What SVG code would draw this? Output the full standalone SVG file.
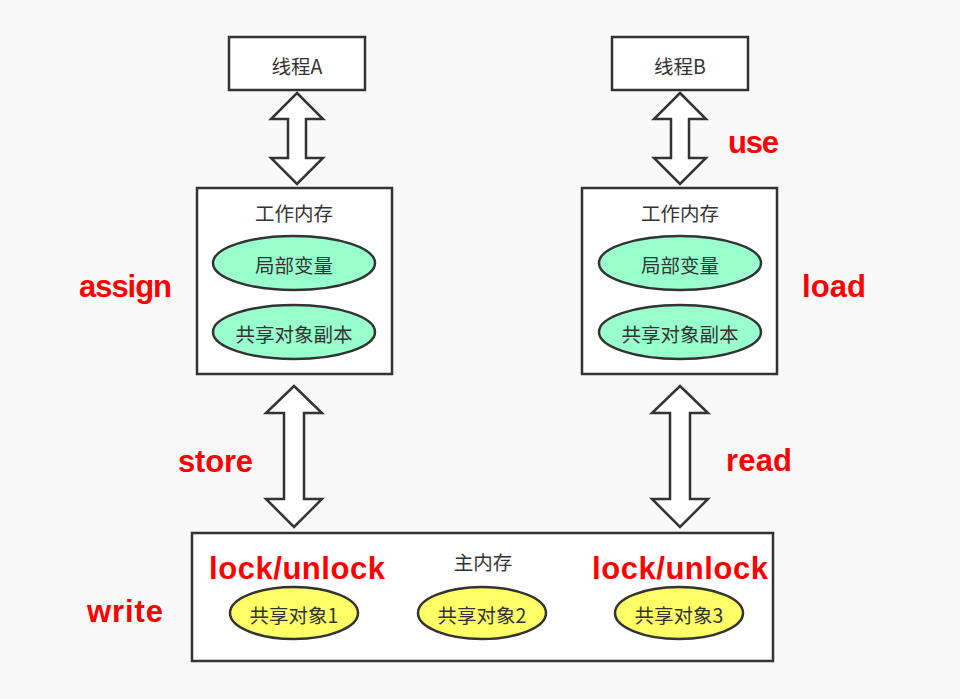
<svg xmlns="http://www.w3.org/2000/svg" width="960" height="699" viewBox="0 0 960 699">
<style>
.box{fill:#fff;stroke:#333;stroke-width:2.5}
.green{fill:#99ffcc;stroke:#333;stroke-width:2.5}
.yellow{fill:#ffff66;stroke:#333;stroke-width:2.5}
.arrow{fill:#fff;stroke:#333;stroke-width:2.5;stroke-linejoin:miter}
.t{font-family:"Noto Sans CJK SC","Noto Sans",sans-serif;font-size:19.5px;fill:#333;text-anchor:middle;dominant-baseline:central}
.lbl{font-family:"Liberation Sans",Arial,sans-serif;font-weight:bold;font-size:31px;fill:#ff0000}
</style>
<rect width="960" height="699" fill="#f9f9f9"/>
<g id="connectors">
<path class="arrow" d="M297,93 L323,119 L306,119 L306,158 L323,158 L297,184 L271,158 L288,158 L288,119 L271,119 Z"/>
<path class="arrow" d="M680,93 L706,119 L689,119 L689,158 L706,158 L680,184 L654,158 L671,158 L671,119 L654,119 Z"/>
<path class="arrow" d="M294,386 L322,413 L304,413 L304,499 L322,499 L294,527 L266,499 L284,499 L284,413 L266,413 Z"/>
<path class="arrow" d="M680,386 L708,413 L690,413 L690,499 L708,499 L680,527 L652,499 L670,499 L670,413 L652,413 Z"/>
</g>
<g id="threadA">
<rect class="box" x="229" y="37" width="136" height="53"/>
<text class="t" x="297" y="65">线程A</text>
</g>
<g id="threadB">
<rect class="box" x="612" y="37" width="136" height="53"/>
<text class="t" x="680" y="65">线程B</text>
</g>
<g id="workMemA">
<rect class="box" x="197" y="188" width="195" height="186"/>
<text class="t" x="294" y="212">工作内存</text>
</g>
<g id="localVarA">
<ellipse class="green" cx="294" cy="263" rx="81" ry="27"/>
<text class="t" x="294" y="264">局部变量</text>
</g>
<g id="copyA">
<ellipse class="green" cx="294" cy="332" rx="81" ry="27"/>
<text class="t" x="294" y="333">共享对象副本</text>
</g>
<g id="workMemB">
<rect class="box" x="582" y="188" width="195" height="186"/>
<text class="t" x="680" y="212">工作内存</text>
</g>
<g id="localVarB">
<ellipse class="green" cx="680" cy="263" rx="81" ry="27"/>
<text class="t" x="680" y="264">局部变量</text>
</g>
<g id="copyB">
<ellipse class="green" cx="680" cy="332" rx="81" ry="27"/>
<text class="t" x="680" y="333">共享对象副本</text>
</g>
<g id="mainMem">
<rect class="box" x="192" y="533" width="581" height="128"/>
<text class="t" x="483" y="561">主内存</text>
</g>
<g id="obj1">
<ellipse class="yellow" cx="294" cy="613" rx="64" ry="26"/>
<text class="t" x="294" y="614">共享对象1</text>
</g>
<g id="obj2">
<ellipse class="yellow" cx="482" cy="613" rx="64" ry="26"/>
<text class="t" x="482" y="614">共享对象2</text>
</g>
<g id="obj3">
<ellipse class="yellow" cx="679" cy="613" rx="64" ry="26"/>
<text class="t" x="679" y="614">共享对象3</text>
</g>
<g id="labels">
<text class="lbl" x="728" y="153" textLength="51">use</text>
<text class="lbl" x="79" y="297" textLength="93">assign</text>
<text class="lbl" x="802" y="297" textLength="64">load</text>
<text class="lbl" x="178" y="472" textLength="75">store</text>
<text class="lbl" x="726" y="471" textLength="66">read</text>
<text class="lbl" x="87" y="622" textLength="76">write</text>
<text class="lbl" x="209" y="579" textLength="176">lock/unlock</text>
<text class="lbl" x="592" y="579" textLength="176">lock/unlock</text>
</g>
</svg>
